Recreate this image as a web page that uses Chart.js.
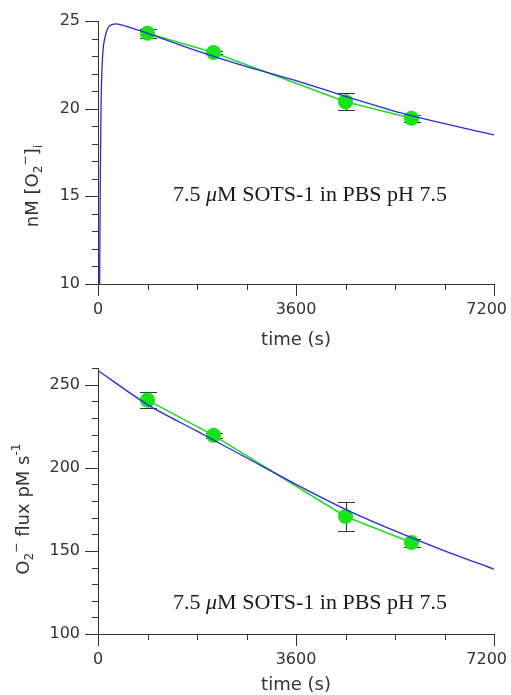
<!DOCTYPE html>
<html>
<head>
<meta charset="utf-8">
<script src="https://cdn.jsdelivr.net/npm/chart.js@4/dist/chart.umd.min.js"></script>
<style>
  body { margin: 0; background: #fff; }
  canvas { position: absolute; left: 0; }
  #top { top: 0; }
  #bottom { top: 350px; }
</style>
</head>
<body>
<canvas id="top" width="511" height="350"></canvas>
<canvas id="bottom" width="511" height="345"></canvas>
<script>
// measured samples (green points with error bars)
const sampleTimes = [900, 2100, 4500, 5700];
const o2Mean = [24.3, 23.2, 20.4, 19.45];
const o2Err = [0.25, 0.1, 0.5, 0.2];
const fluxMean = [240.7, 219.5, 170.7, 155];
const fluxErr = [5, 1.6, 8.7, 2.4];

// model curves (blue)
const o2CurveT = [30, 40, 55, 75, 100, 130, 180, 250, 400, 900, 1800, 2700, 3600, 4500, 5400, 6300, 7200];
const o2CurveV = [10, 15, 20, 22.5, 23.6, 24.1, 24.6, 24.8, 24.8, 24.3, 23.3, 22.4, 21.6, 20.7, 19.85, 19.15, 18.5];
const fluxCurveT = [0, 900, 1800, 2700, 3600, 4500, 5400, 6300, 7200];
const fluxCurveV = [258.5, 238, 222, 206, 190, 175, 162, 150, 139];

// tick labels
const timeTicks = [0, 3600, 7200];
const o2Ticks = [10, 15, 20, 25];
const fluxTicks = [100, 150, 200, 250];

const SANS = 'DejaVu Sans';
const INK = '#333';

function pts(xs, ys) {
  return xs.map((x, i) => ({x: x, y: ys[i]}));
}

// draws rich text (subscripts / superscripts) centred at cx, cy
function drawRich(ctx, parts, cx, cy, size, rot) {
  ctx.save();
  ctx.translate(cx, cy);
  if (rot) ctx.rotate(rot);
  let total = 0;
  parts.forEach(p => {
    const s = p.k === 'n' ? size : size * 0.68;
    ctx.font = (p.it ? 'italic ' : '') + s + 'px ' + p.f;
    p.w = ctx.measureText(p.t).width;
    p.s = s;
    total += p.w;
  });
  let x = -total / 2;
  ctx.textBaseline = 'middle';
  ctx.textAlign = 'left';
  parts.forEach(p => {
    ctx.font = (p.it ? 'italic ' : '') + p.s + 'px ' + p.f;
    let dy = 0;
    if (p.k === 'sub') dy = size * 0.35;
    if (p.k === 'sup') dy = -size * 0.38;
    ctx.fillText(p.t, x, dy);
    x += p.w;
  });
  ctx.restore();
}

const decor = {
  id: 'decor',
  beforeDatasetsDraw(chart, args, opts) {
    const ctx = chart.ctx, xs = chart.scales.x, ys = chart.scales.y;
    ctx.save();
    ctx.strokeStyle = INK;
    ctx.lineWidth = 1;
    opts.errT.forEach((t, i) => {
      const px = Math.round(xs.getPixelForValue(t)) + 0.5;
      const y1 = ys.getPixelForValue(opts.errV[i] - opts.errE[i]);
      const y2 = ys.getPixelForValue(opts.errV[i] + opts.errE[i]);
      ctx.beginPath();
      ctx.moveTo(px, y1); ctx.lineTo(px, y2);
      ctx.moveTo(px - 8.5, Math.round(y1) + 0.5); ctx.lineTo(px + 8.5, Math.round(y1) + 0.5);
      ctx.moveTo(px - 8.5, Math.round(y2) + 0.5); ctx.lineTo(px + 8.5, Math.round(y2) + 0.5);
      ctx.stroke();
    });
    ctx.restore();
  },
  afterDraw(chart, args, opts) {
    const ctx = chart.ctx, xs = chart.scales.x, ys = chart.scales.y;
    const area = chart.chartArea;
    ctx.save();
    ctx.strokeStyle = INK;
    ctx.lineWidth = 1;
    ctx.beginPath();
    for (let v = xs.min; v <= xs.max; v += opts.xMinor) {
      const px = Math.round(xs.getPixelForValue(v)) + 0.5;
      const len = v % opts.xMajor === 0 ? 12 : 6;
      ctx.moveTo(px, area.bottom); ctx.lineTo(px, area.bottom + len);
    }
    for (let v = ys.min; v <= ys.max + 1e-9; v += opts.yMinor) {
      const py = Math.round(ys.getPixelForValue(v)) + 0.5;
      const len = v % opts.yMajor === 0 ? 13 : 6;
      ctx.moveTo(area.left, py); ctx.lineTo(area.left - len, py);
    }
    ctx.stroke();
    ctx.fillStyle = INK;
    // x tick labels, kept inside the canvas at the right end
    ctx.font = '16px ' + SANS;
    ctx.textAlign = 'center';
    ctx.textBaseline = 'middle';
    timeTicks.forEach(v => {
      const label = String(v);
      const w = ctx.measureText(label).width;
      const px = Math.min(xs.getPixelForValue(v), chart.width - 4 - w / 2);
      ctx.fillText(label, px, area.bottom + 26);
    });
    drawRich(ctx, [{t: 'time (s)', k: 'n', f: SANS}], (area.left + area.right) / 2, opts.xTitleY, 18, 0);
    drawRich(ctx, opts.yTitle, opts.yTitleX, opts.yTitleY, 18, -Math.PI / 2);
    ctx.fillStyle = '#1a1a1a';
    const serif = 'Liberation Serif';
    drawRich(ctx, [
      {t: '7.5 ', k: 'n', f: serif},
      {t: 'μ', k: 'n', f: serif, it: true},
      {t: 'M SOTS-1 in PBS pH 7.5', k: 'n', f: serif}
    ], 310, opts.noteY, 22, 0);
    ctx.restore();
  }
};

function makeChart(id, cfg) {
  return new Chart(document.getElementById(id), {
    type: 'scatter',
    data: {
      datasets: [{
        data: cfg.curve,
        showLine: true,
        borderColor: '#2828e6',
        borderWidth: 1.3,
        pointRadius: 0,
        tension: 0.3
      }, {
        data: cfg.points,
        showLine: true,
        borderColor: '#1ee01e',
        borderWidth: 1.6,
        backgroundColor: '#14e614',
        pointBackgroundColor: '#14e614',
        pointBorderWidth: 0,
        pointRadius: 7.5
      }]
    },
    options: {
      responsive: false,
      animation: false,
      layout: {padding: {top: cfg.padTop, right: 0, left: 0, bottom: 0}},
      plugins: {
        legend: {display: false},
        tooltip: {enabled: false},
        decor: cfg.decor
      },
      scales: {
        x: {
          type: 'linear', min: 0, max: 7200,
          afterBuildTicks: s => { s.ticks = timeTicks.map(v => ({value: v})); },
          afterFit: s => { s.height = cfg.xHeight; s.paddingRight = 17; s.paddingLeft = 0; },
          grid: {display: false, drawTicks: false},
          border: {display: true, color: INK, width: 1},
          ticks: {display: false}
        },
        y: {
          type: 'linear', min: cfg.yMin, max: cfg.yMax,
          afterBuildTicks: s => { s.ticks = cfg.yTicks.map(v => ({value: v})); },
          afterFit: s => { s.width = 98; s.paddingTop = 0; s.paddingBottom = 0; },
          grid: {display: false, drawTicks: false},
          border: {display: true, color: INK, width: 1},
          ticks: {padding: 18, color: INK, font: {family: SANS, size: 16}, callback: v => String(v)}
        }
      }
    },
    plugins: [decor]
  });
}

makeChart('top', {
  curve: pts(o2CurveT, o2CurveV),
  points: pts(sampleTimes, o2Mean),
  yMin: 10, yMax: 25, yTicks: o2Ticks,
  padTop: 21, xHeight: 66,
  decor: {
    errT: sampleTimes, errV: o2Mean, errE: o2Err,
    xMinor: 900, xMajor: 3600, yMinor: 1, yMajor: 5,
    xTitleY: 340, noteY: 195,
    yTitleX: 33, yTitleY: 186,
    yTitle: [
      {t: 'nM [O', k: 'n', f: SANS},
      {t: '2', k: 'sub', f: SANS},
      {t: '−', k: 'sup', f: SANS},
      {t: ']', k: 'n', f: SANS},
      {t: 'i', k: 'sub', f: SANS}
    ]
  }
});

makeChart('bottom', {
  curve: pts(fluxCurveT, fluxCurveV),
  points: pts(sampleTimes, fluxMean),
  yMin: 100, yMax: 260, yTicks: fluxTicks,
  padTop: 18, xHeight: 61,
  decor: {
    errT: sampleTimes, errV: fluxMean, errE: fluxErr,
    xMinor: 900, xMajor: 3600, yMinor: 10, yMajor: 50,
    xTitleY: 335, noteY: 253,
    yTitleX: 24, yTitleY: 159,
    yTitle: [
      {t: 'O', k: 'n', f: SANS},
      {t: '2', k: 'sub', f: SANS},
      {t: '−', k: 'sup', f: SANS},
      {t: ' flux pM s', k: 'n', f: SANS},
      {t: '-1', k: 'sup', f: SANS}
    ]
  }
});
</script>
</body>
</html>
